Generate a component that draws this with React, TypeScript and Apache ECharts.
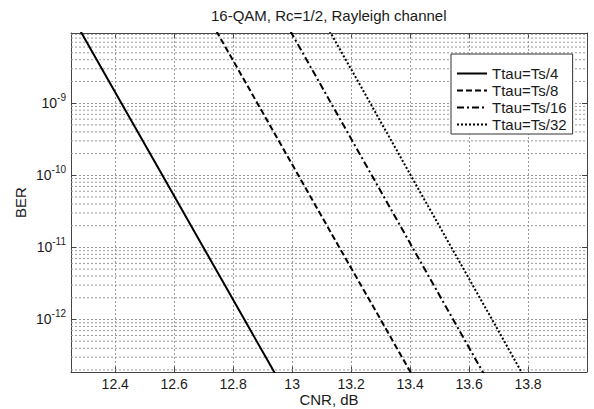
import React, { useEffect, useRef } from 'react';
import * as echarts from 'echarts';

const titleText = '16-QAM, Rc=1/2, Rayleigh channel';
const xName = 'CNR, dB';
const yName = 'BER';
const seriesNames = ['Ttau=Ts/4', 'Ttau=Ts/8', 'Ttau=Ts/16', 'Ttau=Ts/32'];
// BER levels at which the CNR of each curve was read
const berLevels = [1e-8, 1e-9, 1e-10, 1e-11, 1e-12, 1e-13];
const cnrTs4 = [12.282, 12.421, 12.56, 12.699, 12.838, 12.977];
const cnrTs8 = [12.743, 12.882, 13.021, 13.16, 13.3, 13.439];
const cnrTs16 = [12.994, 13.132, 13.27, 13.408, 13.546, 13.684];
const cnrTs32 = [13.127, 13.265, 13.402, 13.54, 13.678, 13.815];
const cnrSeries = [cnrTs4, cnrTs8, cnrTs16, cnrTs32];
const dashTypes: any[] = ['solid', [6, 3], [7, 3, 2, 3], [2, 2]];

const xMin = 12.25;
const xMax = 14.0;
const yMin = 1.87e-13;
const yMax = 9.4e-9;
const decadeExps = [-13, -12, -11, -10, -9];
const minorMultiples = [2, 3, 4, 5, 6, 7, 8, 9];

const FONT = '"Liberation Sans", Arial, Helvetica, sans-serif';

export default function App() {
  const ref = useRef<HTMLDivElement>(null);
  useEffect(() => {
    document.body.style.margin = '0';
    const chart = echarts.init(ref.current!, undefined, { renderer: 'svg' });
    const minorValues: number[] = [];
    decadeExps.forEach((e) => {
      minorMultiples.forEach((m) => {
        const v = m * Math.pow(10, e);
        if (v > yMin && v < yMax) minorValues.push(v);
      });
    });
    const gridLine = { show: true, lineStyle: { color: '#9a9a9a', width: 1, type: [2, 2] as any } };
    const axisLine = { show: true, lineStyle: { color: '#444', width: 1 } };
    const tick = { show: true, inside: true, length: 5, lineStyle: { color: '#444' } };
    const option: any = {
      animation: false,
      backgroundColor: '#fff',
      textStyle: { fontFamily: FONT },
      title: {
        text: titleText,
        left: 211,
        top: 8,
        padding: 0,
        textStyle: { fontSize: 15, fontWeight: 'normal', color: '#1a1a1a', fontFamily: FONT },
      },
      grid: { left: 71, top: 33, right: 7, bottom: 37, containLabel: false, outerBoundsMode: 'none' },
      legend: {
        data: seriesNames,
        orient: 'vertical',
        left: 451,
        top: 54,
        padding: [11, 6, 1, 5],
        itemWidth: 30,
        itemHeight: 12,
        itemGap: 0,
        backgroundColor: '#fff',
        borderColor: '#333',
        borderWidth: 1,
        borderRadius: 0,
        itemStyle: { opacity: 0 },
        textStyle: { fontSize: 15, color: '#1a1a1a', fontFamily: FONT, lineHeight: 17 },
      },
      xAxis: [
        {
          type: 'value',
          min: xMin,
          max: xMax,
          minInterval: 0.2,
          maxInterval: 0.2,
          splitNumber: 8,
          name: xName,
          nameLocation: 'middle',
          nameGap: 20,
          nameMoveOverlap: false,
          nameTextStyle: { fontSize: 15, lineHeight: 15, color: '#1a1a1a', fontFamily: FONT },
          axisLine,
          axisTick: tick,
          axisLabel: {
            fontSize: 14,
            color: '#1a1a1a',
            fontFamily: FONT,
            margin: 5,
            showMinLabel: false,
            showMaxLabel: false,
          },
          splitLine: gridLine,
        },
        {
          type: 'value',
          position: 'top',
          min: xMin,
          max: xMax,
          minInterval: 0.2,
          maxInterval: 0.2,
          splitNumber: 8,
          axisLine,
          axisTick: tick,
          axisLabel: { show: false },
          splitLine: { show: false },
        },
      ],
      yAxis: [
        {
          type: 'log',
          logBase: 10,
          min: yMin,
          max: yMax,
          name: yName,
          nameLocation: 'middle',
          nameGap: 43,
          nameMoveOverlap: false,
          nameTextStyle: { fontSize: 15, color: '#1a1a1a', fontFamily: FONT },
          axisLine,
          axisTick: tick,
          axisLabel: {
            margin: 5,
            showMinLabel: false,
            showMaxLabel: false,
            formatter: (v: number) => {
              const e = Math.round(Math.log10(v));
              return `{b|10}{s|${e}}`;
            },
            rich: {
              b: { fontSize: 14, lineHeight: 22, color: '#1a1a1a', fontFamily: FONT },
              s: { fontSize: 10, lineHeight: 10, verticalAlign: 'top', color: '#1a1a1a', fontFamily: FONT },
            },
          },
          splitLine: gridLine,
        },
        {
          type: 'log',
          logBase: 10,
          position: 'right',
          min: yMin,
          max: yMax,
          axisLine,
          axisTick: tick,
          axisLabel: { show: false },
          splitLine: { show: false },
        },
      ],
      series: [
        {
          type: 'custom',
          name: 'minor-grid',
          silent: true,
          z: 1,
          xAxisIndex: 0,
          yAxisIndex: 0,
          clip: true,
          data: minorValues.map((v) => [xMin, v]),
          encode: { x: 0, y: 1 },
          renderItem: (params: any, api: any) => {
            const v = api.value(1);
            const a = api.coord([xMin, v]);
            const b = api.coord([xMax, v]);
            return {
              type: 'line',
              shape: { x1: a[0], y1: a[1], x2: b[0], y2: b[1] },
              style: { stroke: '#9a9a9a', lineWidth: 1, lineDash: [2, 2] },
            };
          },
        },
        ...seriesNames.map((name, i) => ({
          type: 'line',
          name,
          xAxisIndex: 0,
          yAxisIndex: 0,
          symbol: 'none',
          clip: true,
          z: 3,
          data: cnrSeries[i].map((c, j) => [c, berLevels[j]]),
          lineStyle: { color: '#000', width: 2, type: dashTypes[i] },
          itemStyle: { color: '#000' },
        })),
      ],
    };
    chart.setOption(option);
    return () => chart.dispose();
  }, []);
  return <div ref={ref} style={{ width: 594, height: 409 }} />;
}
